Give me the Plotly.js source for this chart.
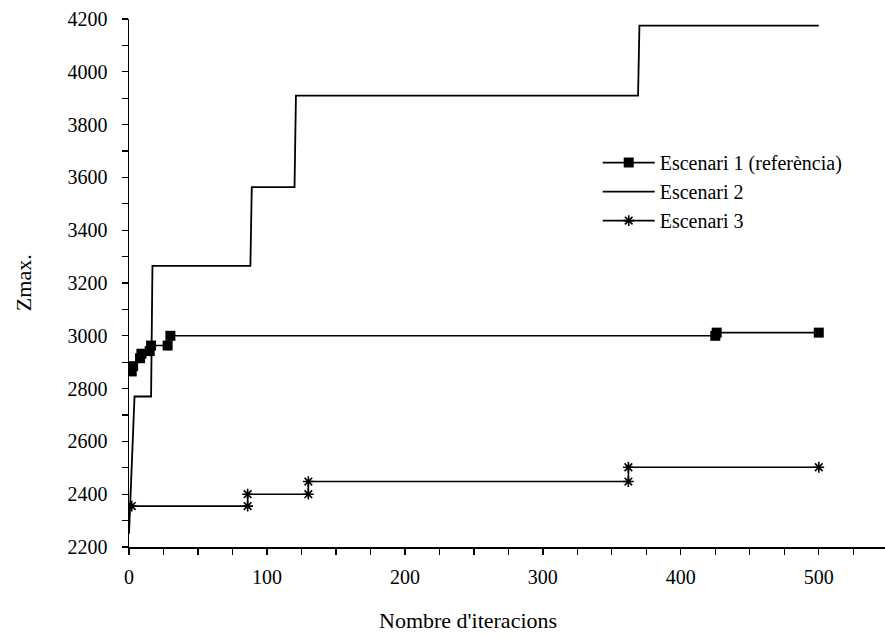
<!DOCTYPE html>
<html>
<head>
<meta charset="utf-8">
<script src="https://cdn.plot.ly/plotly-3.0.1.min.js"></script>
<style>html,body{margin:0;padding:0;background:#fff;}#chart{width:885px;height:638px;}</style>
</head>
<body>
<div id="chart"></div>
<script>
// Escenari 1 (referència)
const x1 = [2, 3, 8, 9, 15, 16, 28, 30, 425, 426, 500];
const y1 = [2865, 2885, 2915, 2932, 2942, 2963, 2963, 3000, 3000, 3012, 3012];
// Escenari 2
const x2 = [0, 4, 16, 17, 88, 89, 120, 121, 369, 370, 500];
const y2 = [2250, 2770, 2770, 3265, 3265, 3563, 3563, 3910, 3910, 4175, 4175];
// Escenari 3
const x3 = [2, 86, 86, 130, 130, 362, 362, 500];
const y3 = [2355, 2355, 2400, 2400, 2448, 2448, 2502, 2502];

const names = ["Escenari 1 (referència)", "Escenari 2", "Escenari 3"];
const xTitle = "Nombre d'iteracions";
const yTitle = "Zmax.";

const FONT = "Liberation Serif, Times New Roman, serif";

const traces = [
  {x: x1, y: y1, name: names[0], mode: "lines+markers",
   line: {color: "#000", width: 1.6},
   marker: {symbol: "square", size: 10, color: "#000"}},
  {x: x2, y: y2, name: names[1], mode: "lines",
   line: {color: "#000", width: 1.8}},
  {x: x3, y: y3, name: names[2], mode: "lines+markers",
   line: {color: "#000", width: 1.6},
   marker: {symbol: "asterisk-open", size: 9, color: "#000", line: {color: "#000", width: 1.6}}}
];

const layout = {
  width: 885, height: 638,
  margin: {l: 129, r: 0, t: 19, b: 91, pad: 0},
  paper_bgcolor: "#fff", plot_bgcolor: "#fff",
  font: {family: FONT, size: 20, color: "#000"},
  showlegend: true,
  legend: {x: 0.62, y: 0.765, xanchor: "left", yanchor: "top",
           bgcolor: "rgba(0,0,0,0)", borderwidth: 0,
           font: {family: FONT, size: 20, color: "#000"},
           itemwidth: 52, tracegroupgap: 0},
  xaxis: {range: [0, 548], showgrid: false, zeroline: false,
          showline: true, linecolor: "#000", linewidth: 1.5,
          ticks: "outside", ticklen: 6, tickwidth: 1.3, tickcolor: "#000",
          tick0: 0, dtick: 100, ticklabelstandoff: 5,
          minor: {ticks: "outside", ticklen: 6, tickwidth: 1.3, tickcolor: "#000", dtick: 25, showgrid: false},
          tickfont: {family: FONT, size: 20, color: "#000"}},
  yaxis: {range: [2200, 4200], showgrid: false, zeroline: false,
          showline: true, linecolor: "#000", linewidth: 1.5,
          ticks: "outside", ticklen: 6, tickwidth: 1.3, tickcolor: "#000",
          tick0: 2200, dtick: 200, ticklabelstandoff: 10,
          minor: {ticks: "outside", ticklen: 6, tickwidth: 1.3, tickcolor: "#000", dtick: 100, showgrid: false},
          tickfont: {family: FONT, size: 20, color: "#000"}},
  annotations: [
    {text: xTitle, xref: "paper", yref: "paper", x: 0.448, y: -0.14,
     xanchor: "center", yanchor: "middle", showarrow: false,
     font: {family: FONT, size: 22, color: "#000"}},
    {text: yTitle, xref: "paper", yref: "paper", x: -0.14, y: 0.5,
     xanchor: "center", yanchor: "middle", showarrow: false, textangle: -90,
     font: {family: FONT, size: 22, color: "#000"}}
  ]
};

Plotly.newPlot("chart", traces, layout, {displayModeBar: false, staticPlot: true});
</script>
</body>
</html>
